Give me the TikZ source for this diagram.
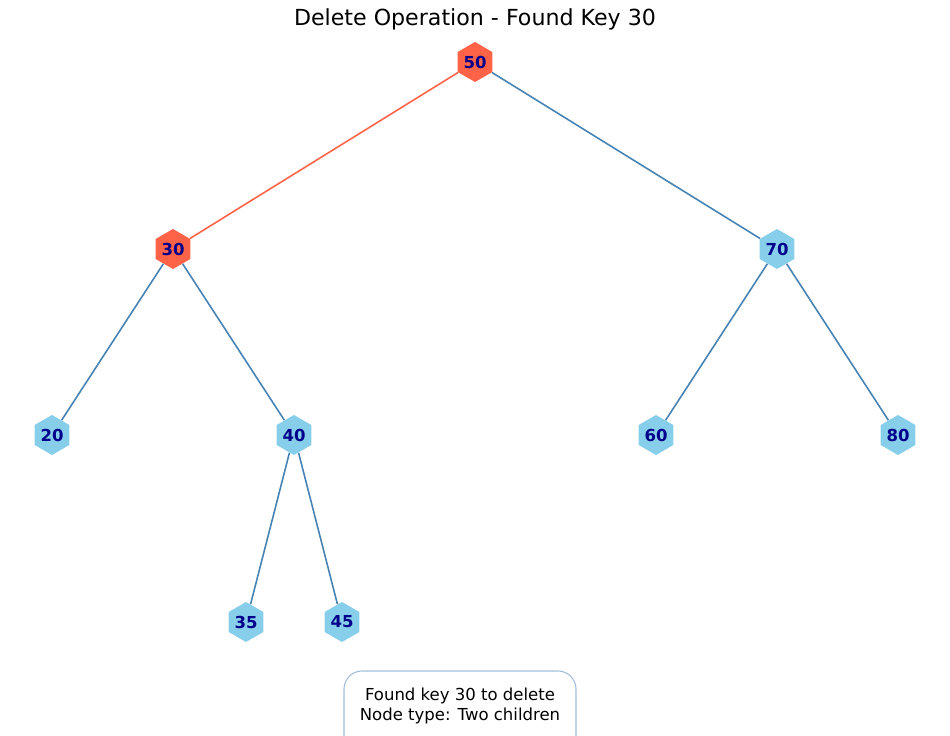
\documentclass[tikz,border=0pt]{standalone}
\usepackage{fontspec}
\setmainfont{DejaVu Sans}
\usepackage{xcolor}
\definecolor{focus}{RGB}{255,99,71}
\definecolor{leaf}{RGB}{135,206,235}
\definecolor{edgeblue}{RGB}{70,130,180}
\definecolor{keytext}{RGB}{0,0,139}
\definecolor{boxline}{RGB}{160,190,220}
\usetikzlibrary{shapes.geometric}
\usetikzlibrary{positioning}

\begin{document}
\begin{tikzpicture}[x=0.02cm, y=-0.02cm,
	hexnode/.style={regular polygon, regular polygon sides=6, shape border rotate=30, minimum size=0.8cm, inner sep=0pt, fill=leaf, text=keytext, font=\fontsize{9.4}{10}\selectfont\bfseries},
	hotnode/.style={hexnode, fill=focus},
	link/.style={draw=edgeblue, line width=0.9pt},
	hotlink/.style={draw=focus, line width=0.9pt}]
	\useasboundingbox (0,0) rectangle (950,736);
	% title
	\node (title) at (475,19) {\fontsize{12.6}{14}\selectfont Delete Operation - Found Key 30};
	% tree nodes
	\node[hotnode] (n50) at (475,62) {50};
	\node[hotnode] (n30) at (173,249) {30};
	\node[hexnode] (n70) at (777,249) {70};
	\node[hexnode] (n20) at (52,435) {20};
	\node[hexnode] (n40) at (294,435) {40};
	\node[hexnode] (n60) at (656,435) {60};
	\node[hexnode] (n80) at (898,435) {80};
	\node[hexnode] (n35) at (246,622) {35};
	\node[hexnode] (n45) at (342,622) {45};
	% edges
	\draw[hotlink] (n50) -- (n30);
	\draw[link] (n50) -- (n70);
	\draw[link] (n30) -- (n20);
	\draw[link] (n30) -- (n40);
	\draw[link] (n70) -- (n60);
	\draw[link] (n70) -- (n80);
	\draw[link] (n40) -- (n35);
	\draw[link] (n40) -- (n45);
	% info box
	\begin{scope}
		\clip (0,0) rectangle (950,736);
		\filldraw[fill=white, draw=boxline, line width=0.6pt, rounded corners=0.36cm] (344,671) rectangle (576,760);
	\end{scope}
	\node[align=center, font=\fontsize{9.4}{11.3}\selectfont] (info) at (460,706) {Found key 30 to delete\\Node type: Two children};
\end{tikzpicture}
\end{document}
